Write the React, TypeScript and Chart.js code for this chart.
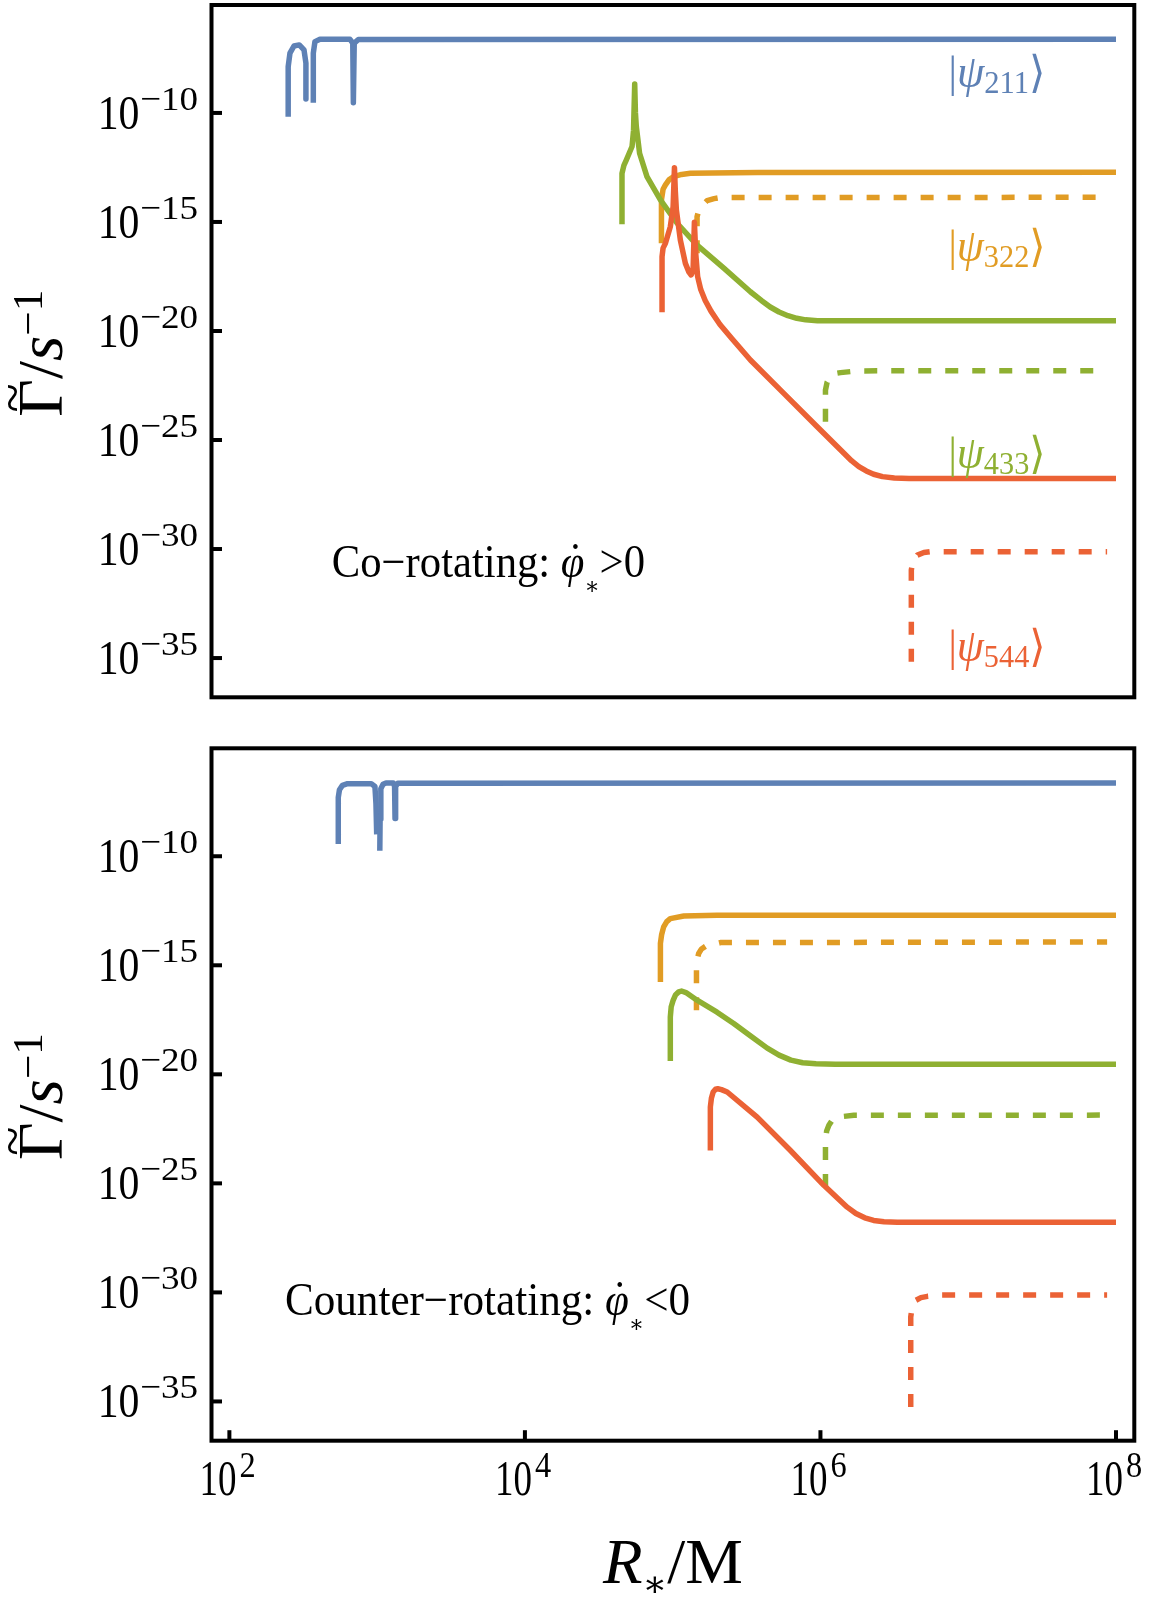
import React, { useEffect, useRef } from "react";
import { Chart, registerables } from "chart.js";

Chart.register(...registerables);

// ---------- data (log10 values) ----------
// x: log10(R*/M), y: log10(Gamma / s^-1)
const xTickExps = [2, 4, 6, 8];
const yTickExps = [-10, -15, -20, -25, -30, -35];
const xRangeExp = [1.879, 8.124];
const yRangeExp = [-36.8, -5.05];

const stateLabels = ["211", "322", "433", "544"];
const panelTexts = ["Co\u2212rotating: ", "Counter\u2212rotating: "];
const panelSigns = [">0", "<0"];

// Co-rotating panel
const coBlueA = [[2.398, -10.17], [2.398, -7.88], [2.41, -7.26], [2.437, -6.93], [2.473, -6.88], [2.505, -7.11], [2.518, -7.72], [2.518, -9.36]];
const coBlueB = [[2.568, -9.53], [2.568, -7.26], [2.579, -6.73], [2.613, -6.62], [2.816, -6.62], [2.835, -6.8], [2.839, -9.53], [2.845, -6.8], [2.873, -6.63], [8.0, -6.62]];
const coOrange = [[4.924, -15.98], [4.924, -13.99], [4.935, -13.5], [4.951, -13.3], [4.975, -13.07], [5.007, -12.92], [5.06, -12.82], [5.12, -12.77], [5.572, -12.73], [8.0, -12.72]];
const coOrangeDash = [[5.165, -16.44], [5.165, -14.76], [5.175, -14.5], [5.192, -14.3], [5.233, -14.02], [5.28, -13.93], [5.323, -13.88], [7.94, -13.87]];
const coGreen = [[4.657, -15.11], [4.657, -12.77], [4.67, -12.4], [4.686, -12.16], [4.725, -11.54], [4.735, -10.8], [4.743, -8.67], [4.748, -10.0], [4.754, -10.63], [4.776, -11.85], [4.826, -12.92], [4.917, -13.99], [5.03, -15.06], [5.165, -16.06], [5.346, -17.12], [5.526, -18.2], [5.6, -18.6], [5.66, -18.9], [5.72, -19.13], [5.78, -19.3], [5.84, -19.42], [5.9, -19.49], [5.98, -19.53], [8.0, -19.53]];
const coGreenDash = [[6.034, -24.16], [6.034, -22.71], [6.045, -22.35], [6.068, -22.1], [6.1, -21.95], [6.136, -21.91], [6.25, -21.83], [7.94, -21.82]];
const coRed = [[4.928, -19.14], [4.928, -16.59], [4.935, -16.2], [4.951, -15.98], [4.984, -15.22], [5.003, -14.3], [5.012, -12.51], [5.018, -13.6], [5.025, -14.45], [5.052, -15.83], [5.086, -16.9], [5.11, -17.3], [5.125, -17.43], [5.138, -17.23], [5.147, -15.01], [5.156, -16.44], [5.169, -17.51], [5.19, -18.1], [5.22, -18.6], [5.26, -19.1], [5.32, -19.7], [5.4, -20.35], [5.526, -21.33], [5.752, -22.86], [5.978, -24.39], [6.159, -25.61], [6.21, -25.95], [6.26, -26.22], [6.31, -26.42], [6.36, -26.57], [6.42, -26.68], [6.5, -26.74], [6.6, -26.76], [8.0, -26.76]];
const coRedDash = [[6.615, -35.17], [6.615, -30.96], [6.625, -30.6], [6.656, -30.28], [6.7, -30.16], [6.746, -30.12], [7.94, -30.12]];

// Counter-rotating panel
const cnBlueA = [[2.737, -9.44], [2.737, -7.3], [2.745, -6.95], [2.765, -6.75], [2.8, -6.67], [2.96, -6.67], [2.985, -6.8], [2.992, -7.6], [2.997, -9.0]];
const cnBlueB = [[3.018, -9.75], [3.02, -8.3], [3.025, -6.9], [3.04, -6.7], [3.06, -6.64], [3.11, -6.64], [3.118, -6.8], [3.121, -8.27], [3.125, -6.8], [3.14, -6.65], [8.0, -6.64]];
const cnOrange = [[4.917, -15.77], [4.917, -14.0], [4.925, -13.6], [4.939, -13.24], [4.96, -13.0], [4.984, -12.86], [5.075, -12.74], [5.3, -12.71], [8.0, -12.71]];
const cnOrangeDash = [[5.161, -17.06], [5.161, -15.08], [5.165, -14.75], [5.176, -14.46], [5.195, -14.25], [5.222, -14.13], [5.323, -13.96], [7.94, -13.93]];
const cnGreen = [[4.984, -19.39], [4.984, -17.37], [4.99, -16.9], [5.003, -16.61], [5.02, -16.35], [5.041, -16.22], [5.06, -16.18], [5.09, -16.25], [5.165, -16.6], [5.3, -17.15], [5.413, -17.67], [5.53, -18.25], [5.64, -18.8], [5.72, -19.12], [5.8, -19.35], [5.88, -19.47], [5.97, -19.52], [6.1, -19.54], [8.0, -19.54]];
const cnGreenDash = [[6.034, -25.17], [6.034, -23.03], [6.042, -22.6], [6.057, -22.34], [6.08, -22.1], [6.114, -21.96], [6.226, -21.88], [7.94, -21.87]];
const cnRed = [[5.255, -23.49], [5.255, -21.5], [5.262, -21.1], [5.274, -20.81], [5.29, -20.68], [5.305, -20.66], [5.33, -20.7], [5.369, -20.81], [5.572, -21.96], [5.797, -23.49], [6.023, -25.09], [6.181, -26.09], [6.24, -26.38], [6.3, -26.58], [6.36, -26.7], [6.43, -26.76], [6.52, -26.78], [8.0, -26.78]];
const cnRedDash = [[6.611, -35.26], [6.611, -31.13], [6.62, -30.7], [6.644, -30.37], [6.68, -30.24], [6.724, -30.18], [6.814, -30.12], [7.94, -30.12]];

// ---------- styling ----------
const BLUE = "#5E81B5";
const ORANGE = "#E19C24";
const GREEN = "#8FB032";
const RED = "#EB6235";
const SERIF = '"Liberation Serif", "DejaVu Serif", serif';
const W = 1168;

type Run = {
  t: string;
  size: number;
  italic?: boolean;
  dy?: number;
  gap?: number;
  accent?: string;
  accentSize?: number;
  accentDy?: number;
  accentDx?: number;
};

const fontOf = (size: number, italic?: boolean) => `${italic ? "italic " : ""}${size}px ${SERIF}`;

function drawRuns(
  ctx: CanvasRenderingContext2D,
  runs: Run[],
  x: number,
  y: number,
  opts: { align: "left" | "right" | "center"; width?: number; sx?: number; color?: string }
) {
  ctx.save();
  const widths = runs.map((r) => {
    ctx.font = fontOf(r.size, r.italic);
    return ctx.measureText(r.t).width + (r.gap ?? 0);
  });
  const total = widths.reduce((a, b) => a + b, 0);
  const sx = opts.width ? opts.width / total : opts.sx ?? 1;
  const w = total * sx;
  const x0 = opts.align === "left" ? x : opts.align === "right" ? x - w : x - w / 2;
  ctx.translate(x0, y);
  ctx.scale(sx, 1);
  ctx.fillStyle = opts.color ?? "#000";
  ctx.textBaseline = "alphabetic";
  let cx = 0;
  runs.forEach((r, i) => {
    ctx.font = fontOf(r.size, r.italic);
    ctx.textAlign = "left";
    const tw = ctx.measureText(r.t).width;
    ctx.fillText(r.t, cx, r.dy ?? 0);
    if (r.accent) {
      ctx.font = fontOf(r.accentSize ?? r.size, false);
      ctx.textAlign = "center";
      ctx.fillText(r.accent, cx + tw / 2 + (r.accentDx ?? 0), (r.dy ?? 0) + (r.accentDy ?? 0));
    }
    cx += widths[i];
  });
  ctx.restore();
}

const toPoints = (pts: number[][]) => pts.map(([lx, ly]) => ({ x: Math.pow(10, lx), y: Math.pow(10, ly) }));

function line(pts: number[][], color: string, dashed: boolean, order: number) {
  return {
    data: toPoints(pts),
    borderColor: color,
    backgroundColor: color,
    borderWidth: 5.5,
    borderDash: dashed ? [13, 14] : [],
    borderJoinStyle: "round" as const,
    borderCapStyle: "butt" as const,
    pointRadius: 0,
    pointHoverRadius: 0,
    tension: 0,
    fill: false,
    order,
  };
}

type PanelCfg = {
  top: number; // canvas top (page coords)
  height: number;
  areaTop: number; // page coords
  areaBottom: number;
  datasets: any[];
  textIndex: number;
  textLeft: number;
  textRight: number;
  textBase: number;
  showX: boolean;
  showStates: boolean;
};

const AREA_LEFT = 211.5;
const AREA_RIGHT = 1134.3;

function makeDecor(cfg: PanelCfg) {
  return {
    id: "decor" + cfg.textIndex,
    afterDatasetsDraw(chart: any) {
      const ctx: CanvasRenderingContext2D = chart.ctx;
      const { left, right, top, bottom } = chart.chartArea;
      const xs = chart.scales.x;
      const ys = chart.scales.y;
      const off = cfg.top;
      ctx.save();
      // frame
      ctx.strokeStyle = "#000";
      ctx.lineWidth = 4;
      ctx.strokeRect(left, top, right - left, bottom - top);
      // y ticks (inward) + labels
      ctx.lineWidth = 4;
      yTickExps.forEach((e) => {
        const py = ys.getPixelForValue(Math.pow(10, e));
        ctx.beginPath();
        ctx.moveTo(left, py);
        ctx.lineTo(left + 10.5, py);
        ctx.stroke();
        drawRuns(ctx, [{ t: "10", size: 48 }], 139.5, py + 16, { align: "right", sx: 0.87 });
        drawRuns(ctx, [{ t: "\u2212" + String(-e), size: 34 }], 198, py - 3, { align: "right", width: 58 });
      });
      // x ticks (inward) + labels
      if (cfg.showX) {
        xTickExps.forEach((e) => {
          const px = xs.getPixelForValue(Math.pow(10, e));
          ctx.beginPath();
          ctx.moveTo(px, bottom);
          ctx.lineTo(px, bottom - 10.5);
          ctx.stroke();
          drawRuns(ctx, [{ t: "10", size: 50 }], px - 30, 1495 - off, { align: "left", width: 37 });
          drawRuns(ctx, [{ t: String(e), size: 36 }], px + 10, 1477 - off, { align: "left", sx: 0.9 });
        });
        // x title
        drawRuns(
          ctx,
          [
            { t: "R", size: 64, italic: true },
            { t: "\u2217", size: 36, dy: 13 },
            { t: "/", size: 64 },
            { t: "M", size: 64 },
          ],
          603,
          1583 - off,
          { align: "left", width: 140 }
        );
      }
      // y title (rotated)
      const cy = (top + bottom) / 2 + 2;
      ctx.save();
      ctx.translate(62, cy);
      ctx.rotate(-Math.PI / 2);
      drawRuns(
        ctx,
        [
          { t: "\u0393", size: 63, accent: "~", accentSize: 52, accentDy: -32 },
          { t: "/", size: 63 },
          { t: "s", size: 63, italic: true },
          { t: "\u22121", size: 42, dy: -20 },
        ],
        0,
        0,
        { align: "center", width: 127 }
      );
      ctx.restore();
      // annotation
      drawRuns(
        ctx,
        [
          { t: panelTexts[cfg.textIndex], size: 46 },
          { t: "\u03C6", size: 46, italic: true, accent: "\u02D9", accentSize: 46, accentDy: -2, accentDx: 3 },
          { t: "\u2217", size: 24, dy: 17 },
          { t: panelSigns[cfg.textIndex], size: 46 },
        ],
        cfg.textLeft,
        cfg.textBase - off,
        { align: "left", width: cfg.textRight - cfg.textLeft }
      );
      // state labels
      if (cfg.showStates) {
        const cols = [BLUE, ORANGE, GREEN, RED];
        const bases = [87, 261, 467.5, 660.6];
        stateLabels.forEach((s, i) => {
          drawRuns(
            ctx,
            [
              { t: "|", size: 44 },
              { t: "\u03C8", size: 46, italic: true },
              { t: s, size: 32, dy: 6 },
              { t: "\u27E9", size: 44 },
            ],
            948.5,
            bases[i] - off,
            { align: "left", width: 97, color: cols[i] }
          );
        });
      }
      ctx.restore();
    },
  };
}

function Panel({ cfg }: { cfg: PanelCfg }) {
  const ref = useRef<HTMLCanvasElement | null>(null);
  useEffect(() => {
    const canvas = ref.current;
    if (!canvas) return;
    const chart = new Chart(canvas, {
      type: "line",
      data: { datasets: cfg.datasets },
      options: {
        animation: false,
        responsive: false,
        maintainAspectRatio: false,
        events: [],
        layout: {
          padding: {
            left: AREA_LEFT,
            right: W - AREA_RIGHT,
            top: cfg.areaTop - cfg.top,
            bottom: cfg.top + cfg.height - cfg.areaBottom,
          },
        },
        plugins: { legend: { display: false }, tooltip: { enabled: false } },
        scales: {
          x: {
            type: "logarithmic",
            display: false,
            min: Math.pow(10, xRangeExp[0]),
            max: Math.pow(10, xRangeExp[1]),
          },
          y: {
            type: "logarithmic",
            display: false,
            min: Math.pow(10, yRangeExp[0]),
            max: Math.pow(10, yRangeExp[1]),
          },
        },
      } as any,
      plugins: [makeDecor(cfg)],
    });
    return () => chart.destroy();
  }, [cfg]);
  return (
    <canvas
      ref={ref}
      width={W}
      height={cfg.height}
      style={{ position: "absolute", left: 0, top: cfg.top, width: W, height: cfg.height }}
    />
  );
}

const topCfg: PanelCfg = {
  top: 0,
  height: 725,
  areaTop: 5,
  areaBottom: 697.3,
  textIndex: 0,
  textLeft: 331.7,
  textRight: 645,
  textBase: 576.7,
  showX: false,
  showStates: true,
  datasets: [
    line(coRed, RED, false, 1),
    line(coRedDash, RED, true, 1),
    line(coGreen, GREEN, false, 2),
    line(coGreenDash, GREEN, true, 2),
    line(coOrange, ORANGE, false, 3),
    line(coOrangeDash, ORANGE, true, 3),
    line(coBlueA, BLUE, false, 4),
    line(coBlueB, BLUE, false, 4),
  ],
};

const bottomCfg: PanelCfg = {
  top: 725,
  height: 878,
  areaTop: 748.3,
  areaBottom: 1440.7,
  textIndex: 1,
  textLeft: 285,
  textRight: 690,
  textBase: 1315,
  showX: true,
  showStates: false,
  datasets: [
    line(cnRed, RED, false, 1),
    line(cnRedDash, RED, true, 1),
    line(cnGreen, GREEN, false, 2),
    line(cnGreenDash, GREEN, true, 2),
    line(cnOrange, ORANGE, false, 3),
    line(cnOrangeDash, ORANGE, true, 3),
    line(cnBlueA, BLUE, false, 4),
    line(cnBlueB, BLUE, false, 4),
  ],
};

export default function App() {
  return (
    <div style={{ position: "absolute", left: 0, top: 0, width: W, height: 1603, background: "#fff" }}>
      <Panel cfg={topCfg} />
      <Panel cfg={bottomCfg} />
    </div>
  );
}
